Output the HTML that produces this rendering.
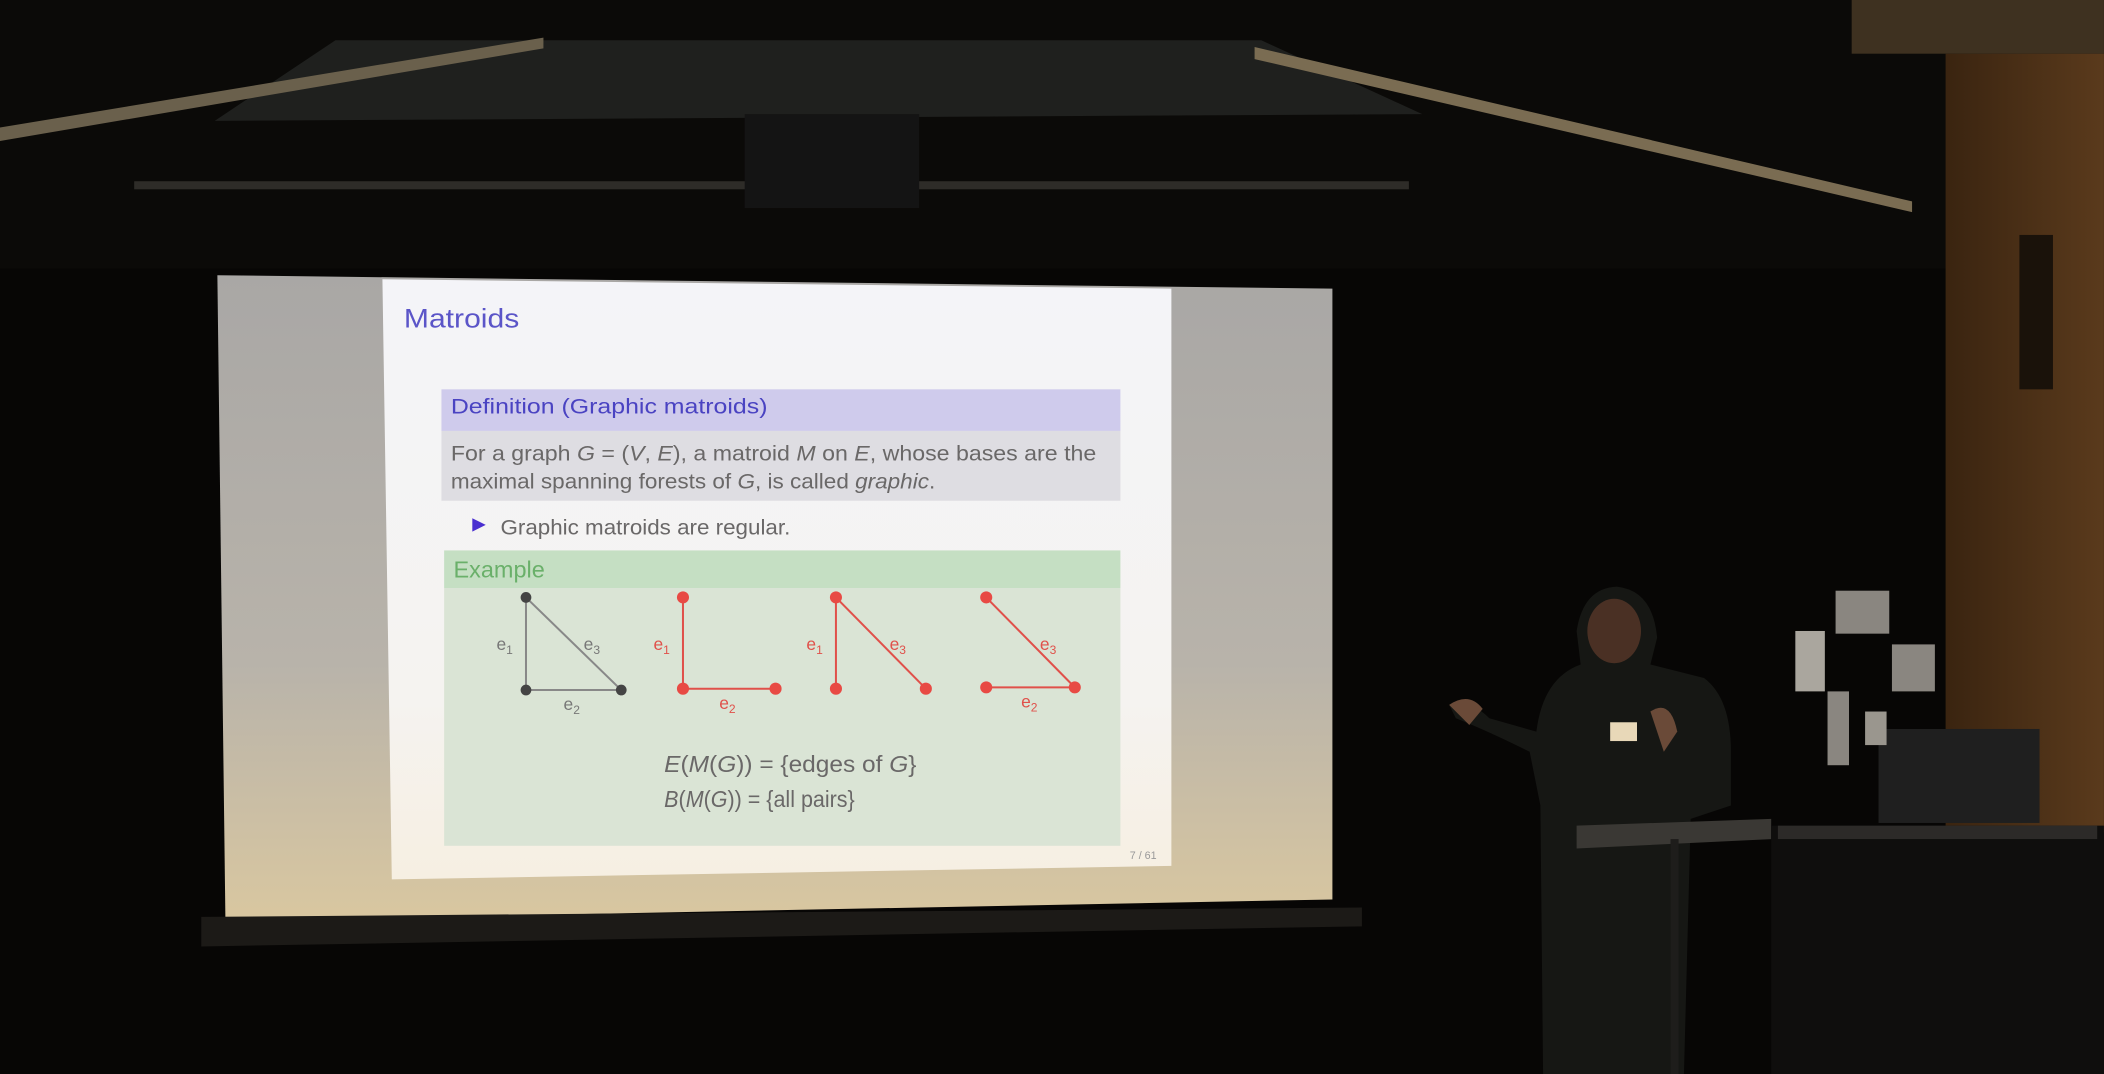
<!DOCTYPE html>
<html><head><meta charset="utf-8"><style>
html,body{margin:0;padding:0;background:#070605;overflow:hidden}
#wrap{width:1568px;height:800px;transform:scale(1.3418,1.3425);transform-origin:0 0}
svg text{font-family:"Liberation Sans","DejaVu Sans",sans-serif}
</style></head><body>
<div id="wrap">
<svg width="1568" height="800" viewBox="0 0 1568 800" xmlns="http://www.w3.org/2000/svg">
<defs>
<linearGradient id="scr" x1="0" y1="0" x2="0" y2="1">
<stop offset="0" stop-color="#a9a7a5"/><stop offset="0.6" stop-color="#b8b3aa"/><stop offset="1" stop-color="#d9c7a0"/></linearGradient>
<linearGradient id="sl" x1="0" y1="0" x2="0" y2="1">
<stop offset="0" stop-color="#f4f4f8"/><stop offset="0.7" stop-color="#f5f3f0"/><stop offset="1" stop-color="#f6efe2"/></linearGradient>
<linearGradient id="wood" x1="0" y1="0" x2="1" y2="0">
<stop offset="0" stop-color="#3a2410"/><stop offset="1" stop-color="#5a3a1c"/></linearGradient>
</defs>
<g>
<rect x="0" y="0" width="1568" height="200" fill="#0b0a08"/>
<polygon points="250,30 940,30 1060,85 160,90" fill="#1f201e"/>
<polygon points="0,95 405,28 405,36 0,105" fill="#6a604c"/>
<polygon points="935,35 1425,150 1425,158 935,44" fill="#7a6c52"/>
<rect x="100" y="135" width="950" height="6" fill="#2e2c28"/>
<rect x="555" y="85" width="130" height="70" fill="#141414"/>
<rect x="1380" y="0" width="188" height="40" fill="#3e3120"/>
</g>
<rect x="1450" y="40" width="118" height="580" fill="url(#wood)"/>
<rect x="1505" y="175" width="25" height="115" fill="#1a120a"/>
<g>
<polygon points="162,205 993,215 993,670 168,686" fill="url(#scr)"/>
<polygon points="150,683 1015,676 1015,690 150,705" fill="#1c1a17"/>
</g>
<g>
<polygon points="285,208 873,215 873,645 292,655" fill="url(#sl)"/>
<text x="301" y="244" font-size="20" fill="#5b55c8" textLength="86" lengthAdjust="spacingAndGlyphs">Matroids</text>
<rect x="329" y="290" width="506" height="31" fill="#cfcbec"/>
<text x="336" y="308" font-size="16" fill="#4a43c2" textLength="236" lengthAdjust="spacingAndGlyphs">Definition (Graphic matroids)</text>
<rect x="329" y="321" width="506" height="52" fill="#dedde2"/>
<text x="336" y="343" font-size="16" fill="#6a6868" textLength="481" lengthAdjust="spacingAndGlyphs">For a graph <tspan font-style="italic">G</tspan> = (<tspan font-style="italic">V</tspan>, <tspan font-style="italic">E</tspan>), a matroid <tspan font-style="italic">M</tspan> on <tspan font-style="italic">E</tspan>, whose bases are the</text>
<text x="336" y="364" font-size="16" fill="#6a6868" textLength="361" lengthAdjust="spacingAndGlyphs">maximal spanning forests of <tspan font-style="italic">G</tspan>, is called <tspan font-style="italic">graphic</tspan>.</text>
<polygon points="352,386 362,391 352,396" fill="#4a2fd0"/>
<text x="373" y="398" font-size="16" fill="#6a6868" textLength="216" lengthAdjust="spacingAndGlyphs">Graphic matroids are regular.</text>
<rect x="331" y="410" width="504" height="28" fill="#c5dfc3"/>
<text x="338" y="430" font-size="17" fill="#6ab06a" textLength="68" lengthAdjust="spacingAndGlyphs">Example</text>
<rect x="331" y="438" width="504" height="192" fill="#dae4d5"/>
<g stroke="#888" stroke-width="1.5">
<line x1="392" y1="445" x2="392" y2="514"/><line x1="392" y1="514" x2="463" y2="514"/><line x1="392" y1="445" x2="463" y2="514"/>
<circle cx="392" cy="445" r="4" fill="#444" stroke="none"/><circle cx="392" cy="514" r="4" fill="#444" stroke="none"/><circle cx="463" cy="514" r="4" fill="#444" stroke="none"/>
</g>
<g font-size="13" fill="#777">
<text x="370" y="484">e<tspan font-size="9" dy="3">1</tspan></text>
<text x="435" y="484">e<tspan font-size="9" dy="3">3</tspan></text>
<text x="420" y="529">e<tspan font-size="9" dy="3">2</tspan></text>
</g>
<g stroke="#e0504a" stroke-width="1.5">
<line x1="509" y1="445" x2="509" y2="513"/><line x1="509" y1="513" x2="578" y2="513"/>
<circle cx="509" cy="445" r="4.5" fill="#e84a44" stroke="none"/><circle cx="509" cy="513" r="4.5" fill="#e84a44" stroke="none"/><circle cx="578" cy="513" r="4.5" fill="#e84a44" stroke="none"/>
</g>
<g stroke="#e0504a" stroke-width="1.5">
<line x1="623" y1="445" x2="623" y2="513"/><line x1="623" y1="445" x2="690" y2="513"/>
<circle cx="623" cy="445" r="4.5" fill="#e84a44" stroke="none"/><circle cx="623" cy="513" r="4.5" fill="#e84a44" stroke="none"/><circle cx="690" cy="513" r="4.5" fill="#e84a44" stroke="none"/>
</g>
<g stroke="#e0504a" stroke-width="1.5">
<line x1="735" y1="445" x2="801" y2="512"/><line x1="735" y1="512" x2="801" y2="512"/>
<circle cx="735" cy="445" r="4.5" fill="#e84a44" stroke="none"/><circle cx="735" cy="512" r="4.5" fill="#e84a44" stroke="none"/><circle cx="801" cy="512" r="4.5" fill="#e84a44" stroke="none"/>
</g>
<g font-size="13" fill="#e0504a">
<text x="487" y="484">e<tspan font-size="9" dy="3">1</tspan></text>
<text x="536" y="528">e<tspan font-size="9" dy="3">2</tspan></text>
<text x="601" y="484">e<tspan font-size="9" dy="3">1</tspan></text>
<text x="663" y="484">e<tspan font-size="9" dy="3">3</tspan></text>
<text x="775" y="484">e<tspan font-size="9" dy="3">3</tspan></text>
<text x="761" y="527">e<tspan font-size="9" dy="3">2</tspan></text>
</g>
<text x="495" y="575" font-size="17" fill="#6a6868" textLength="188" lengthAdjust="spacingAndGlyphs"><tspan font-style="italic">E</tspan>(<tspan font-style="italic">M</tspan>(<tspan font-style="italic">G</tspan>)) = {edges of <tspan font-style="italic">G</tspan>}</text>
<text x="495" y="601" font-size="17" fill="#6a6868" textLength="142" lengthAdjust="spacingAndGlyphs"><tspan font-style="italic">B</tspan>(<tspan font-style="italic">M</tspan>(<tspan font-style="italic">G</tspan>)) = {all pairs}</text>
<text x="842" y="640" font-size="8" fill="#999">7 / 61</text>
</g>
<g>
<path d="M1175,470 Q1180,438 1205,437 Q1232,440 1235,475 L1230,495 L1270,505 Q1290,520 1290,560 L1290,600 L1260,610 L1255,800 L1150,800 L1148,600 L1140,560 Q1110,545 1085,535 L1080,525 Q1095,520 1110,535 L1145,545 Q1150,505 1178,495 Z" fill="#161714"/>
<ellipse cx="1203" cy="470" rx="20" ry="24" fill="#4a3024"/>
<rect x="1200" y="538" width="20" height="14" fill="#e8d8b8"/>
<path d="M1230,530 Q1245,520 1250,545 L1240,560 Z" fill="#6a4a38"/>
<path d="M1080,525 Q1095,515 1105,528 L1095,540 Z" fill="#6a4a38"/>
</g>
<g>
<polygon points="1175,615 1320,610 1320,625 1175,632" fill="#3a3834"/>
<rect x="1245" y="625" width="6" height="175" fill="#1e1d1b"/>
<rect x="1320" y="615" width="248" height="185" fill="#0f0e0d"/>
<rect x="1325" y="615" width="238" height="10" fill="#2c2a28"/>
<rect x="1400" y="543" width="120" height="70" fill="#1f1f1f"/>
<rect x="1368" y="440" width="40" height="32" fill="#8a8680"/>
<rect x="1410" y="480" width="32" height="35" fill="#8a8680"/>
<rect x="1338" y="470" width="22" height="45" fill="#aaa69e"/>
<rect x="1362" y="515" width="16" height="55" fill="#8a8680"/>
<rect x="1390" y="530" width="16" height="25" fill="#9a968e"/>
</g>
</svg>
</div>
</body></html>
